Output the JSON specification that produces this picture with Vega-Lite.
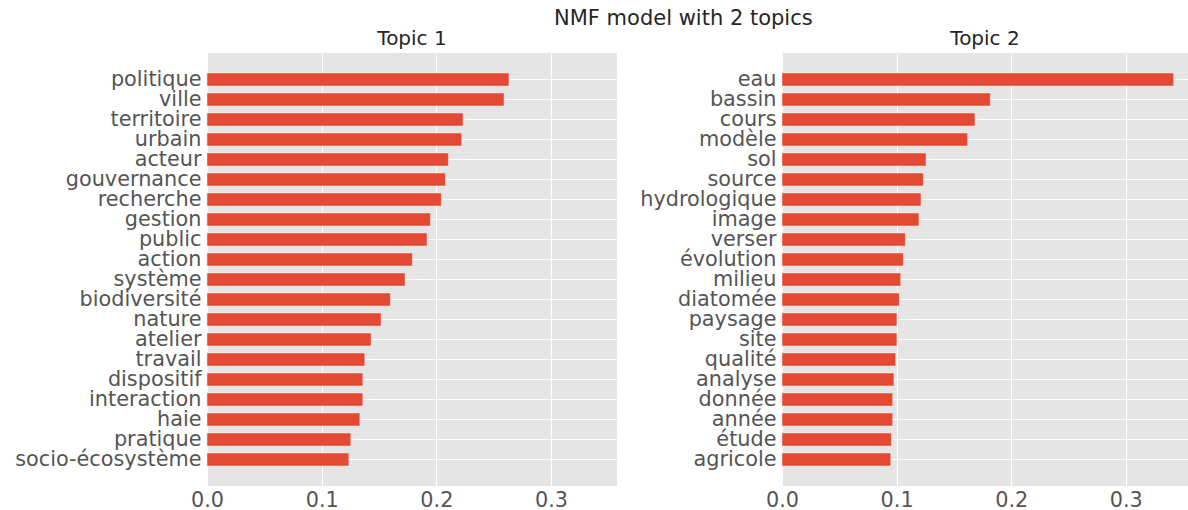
{
  "$schema": "https://vega.github.io/schema/vega-lite/v6.json",
  "padding": {"left": 14, "top": 8, "right": 0, "bottom": 0},
  "background": "white",
  "title": {"text": "NMF model with 2 topics", "font": "DejaVu Sans", "fontSize": 21, "fontWeight": "normal", "color": "#262626", "anchor": "middle", "dx": 82, "offset": 0},
  "data": {"values": [
    {"topic": "Topic 1", "word": "politique", "weight": 0.2633},
    {"topic": "Topic 1", "word": "ville", "weight": 0.2590},
    {"topic": "Topic 1", "word": "territoire", "weight": 0.2233},
    {"topic": "Topic 1", "word": "urbain", "weight": 0.2221},
    {"topic": "Topic 1", "word": "acteur", "weight": 0.2105},
    {"topic": "Topic 1", "word": "gouvernance", "weight": 0.2079},
    {"topic": "Topic 1", "word": "recherche", "weight": 0.2044},
    {"topic": "Topic 1", "word": "gestion", "weight": 0.1948},
    {"topic": "Topic 1", "word": "public", "weight": 0.1919},
    {"topic": "Topic 1", "word": "action", "weight": 0.1791},
    {"topic": "Topic 1", "word": "système", "weight": 0.1727},
    {"topic": "Topic 1", "word": "biodiversité", "weight": 0.1599},
    {"topic": "Topic 1", "word": "nature", "weight": 0.1518},
    {"topic": "Topic 1", "word": "atelier", "weight": 0.1431},
    {"topic": "Topic 1", "word": "travail", "weight": 0.1376},
    {"topic": "Topic 1", "word": "dispositif", "weight": 0.1359},
    {"topic": "Topic 1", "word": "interaction", "weight": 0.1359},
    {"topic": "Topic 1", "word": "haie", "weight": 0.1333},
    {"topic": "Topic 1", "word": "pratique", "weight": 0.1254},
    {"topic": "Topic 1", "word": "socio-écosystème", "weight": 0.1237},
    {"topic": "Topic 2", "word": "eau", "weight": 0.3418},
    {"topic": "Topic 2", "word": "bassin", "weight": 0.1818},
    {"topic": "Topic 2", "word": "cours", "weight": 0.1684},
    {"topic": "Topic 2", "word": "modèle", "weight": 0.1620},
    {"topic": "Topic 2", "word": "sol", "weight": 0.1257},
    {"topic": "Topic 2", "word": "source", "weight": 0.1234},
    {"topic": "Topic 2", "word": "hydrologique", "weight": 0.1213},
    {"topic": "Topic 2", "word": "image", "weight": 0.1195},
    {"topic": "Topic 2", "word": "verser", "weight": 0.1077},
    {"topic": "Topic 2", "word": "évolution", "weight": 0.1059},
    {"topic": "Topic 2", "word": "milieu", "weight": 0.1036},
    {"topic": "Topic 2", "word": "diatomée", "weight": 0.1024},
    {"topic": "Topic 2", "word": "paysage", "weight": 0.1003},
    {"topic": "Topic 2", "word": "site", "weight": 0.1003},
    {"topic": "Topic 2", "word": "qualité", "weight": 0.0992},
    {"topic": "Topic 2", "word": "analyse", "weight": 0.0977},
    {"topic": "Topic 2", "word": "donnée", "weight": 0.0966},
    {"topic": "Topic 2", "word": "année", "weight": 0.0966},
    {"topic": "Topic 2", "word": "étude", "weight": 0.0955},
    {"topic": "Topic 2", "word": "agricole", "weight": 0.0949}
  ]},
  "spacing": 22,
  "hconcat": [
    {
      "title": {"text": "Topic 1"},
      "width": 410,
      "height": 433,
      "transform": [{"filter": "datum.topic == 'Topic 1'"}],
      "mark": {"type": "bar", "color": "#E24A33", "stroke": "#EEEEEE", "strokeWidth": 0.5},
      "encoding": {
        "y": {"field": "word", "type": "nominal", "sort": null, "scale": {"paddingInner": 0.35, "paddingOuter": 1.0}, "axis": {"title": null, "bandPosition": 0.5, "labelPadding": 6}},
        "x": {"field": "weight", "type": "quantitative", "scale": {"domain": [0, 0.3575], "nice": false}, "axis": {"title": null, "values": [0, 0.1, 0.2, 0.3], "format": ".1f", "labelFlush": false, "labelPadding": 4}}
      }
    },
    {
      "title": {"text": "Topic 2"},
      "width": 406,
      "height": 433,
      "transform": [{"filter": "datum.topic == 'Topic 2'"}],
      "mark": {"type": "bar", "color": "#E24A33", "stroke": "#EEEEEE", "strokeWidth": 0.5},
      "encoding": {
        "y": {"field": "word", "type": "nominal", "sort": null, "scale": {"paddingInner": 0.35, "paddingOuter": 1.0}, "axis": {"title": null, "bandPosition": 0.5, "labelPadding": 6}},
        "x": {"field": "weight", "type": "quantitative", "scale": {"domain": [0, 0.3543], "nice": false}, "axis": {"title": null, "values": [0, 0.1, 0.2, 0.3], "format": ".1f", "labelFlush": false, "labelPadding": 4}}
      }
    }
  ],
  "config": {
    "view": {"fill": "#E5E5E5", "stroke": null},
    "axis": {"grid": true, "gridColor": "#FFFFFF", "gridWidth": 1, "domain": false, "ticks": false, "labelFont": "DejaVu Sans", "labelFontSize": 20.8, "labelColor": "#555555", "labelLimit": 0},
    "title": {"font": "DejaVu Sans", "fontSize": 20, "fontWeight": "normal", "color": "#262626", "offset": 0}
  }
}
